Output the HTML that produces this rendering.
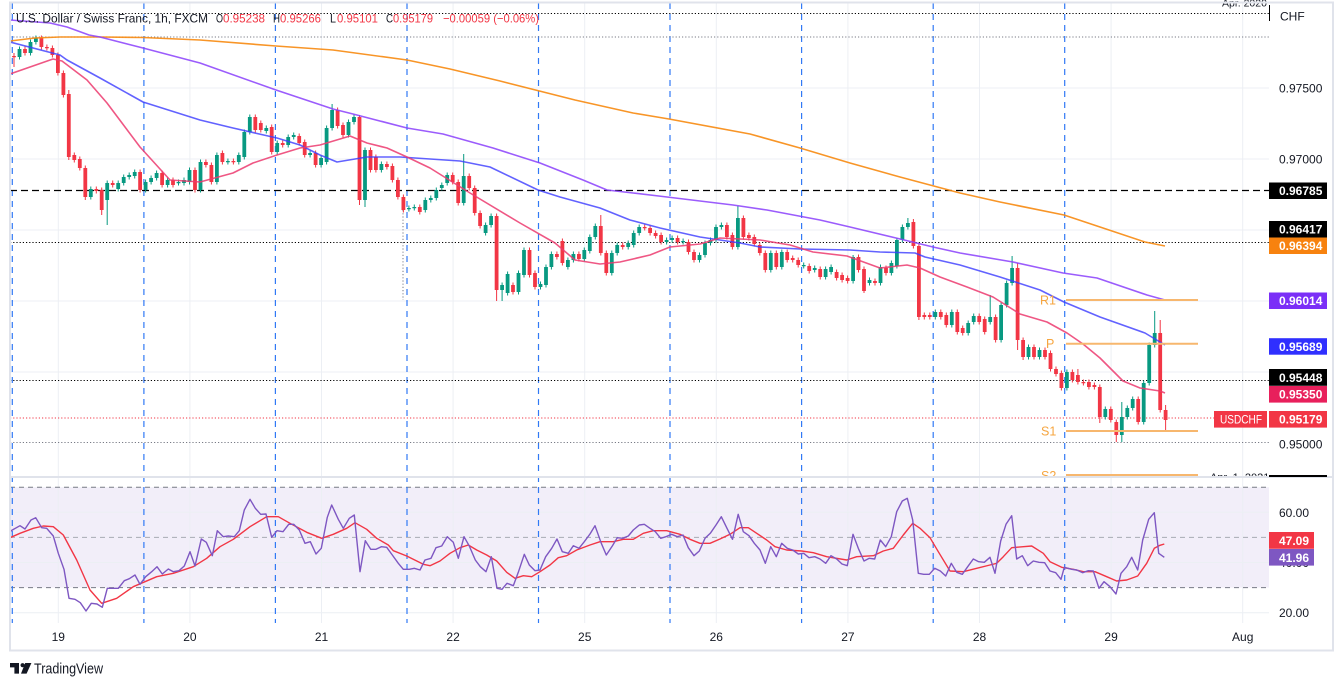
<!DOCTYPE html>
<html>
<head>
<meta charset="utf-8">
<style>
html,body{margin:0;padding:0;background:#fff;}
svg{display:block;}
text{font-family:"Liberation Sans",Arial,sans-serif;}
</style>
</head>
<body>
<svg width="1343" height="686" viewBox="0 0 1343 686" xmlns="http://www.w3.org/2000/svg">
<defs>
<clipPath id="cm"><rect x="10" y="3" width="1259" height="474"/></clipPath>
<clipPath id="cr"><rect x="10" y="477" width="1259" height="146"/></clipPath>
</defs>
<rect width="1343" height="686" fill="#fff"/>

<rect x="10" y="487.2" width="1259" height="100.4" fill="#f2eef9"/>

<g stroke="#eceff4" stroke-width="1">
<line x1="58.3" y1="3" x2="58.3" y2="623"/>
<line x1="189.9" y1="3" x2="189.9" y2="623"/>
<line x1="321.5" y1="3" x2="321.5" y2="623"/>
<line x1="453.1" y1="3" x2="453.1" y2="623"/>
<line x1="584.7" y1="3" x2="584.7" y2="623"/>
<line x1="716.3" y1="3" x2="716.3" y2="623"/>
<line x1="847.9" y1="3" x2="847.9" y2="623"/>
<line x1="979.5" y1="3" x2="979.5" y2="623"/>
<line x1="1111.1" y1="3" x2="1111.1" y2="623"/>
<line x1="1242.7" y1="3" x2="1242.7" y2="623"/>
</g>
<g stroke="#eceff4" stroke-width="1">
<line x1="10" y1="88" x2="1269" y2="88"/>
<line x1="10" y1="159" x2="1269" y2="159"/>
<line x1="10" y1="230" x2="1269" y2="230"/>
<line x1="10" y1="301" x2="1269" y2="301"/>
<line x1="10" y1="372" x2="1269" y2="372"/>
<line x1="10" y1="512.3" x2="1269" y2="512.3"/>
<line x1="10" y1="562.5" x2="1269" y2="562.5"/>
<line x1="10" y1="612.7" x2="1269" y2="612.7"/>
</g>
<line x1="10" y1="487.2" x2="1269" y2="487.2" stroke="#787b86" stroke-width="1" stroke-dasharray="5 4"/>
<line x1="10" y1="587.6" x2="1269" y2="587.6" stroke="#787b86" stroke-width="1" stroke-dasharray="5 4"/>
<line x1="10" y1="537.4" x2="1269" y2="537.4" stroke="#a8abb4" stroke-width="1" stroke-dasharray="5 4"/>

<g stroke="#3179f5" stroke-width="1.2" stroke-dasharray="6 5">
<line x1="12.3" y1="3" x2="12.3" y2="623"/>
<line x1="143.9" y1="3" x2="143.9" y2="623"/>
<line x1="275.4" y1="3" x2="275.4" y2="623"/>
<line x1="407" y1="3" x2="407" y2="623"/>
<line x1="538.5" y1="3" x2="538.5" y2="623"/>
<line x1="670" y1="3" x2="670" y2="623"/>
<line x1="801.6" y1="3" x2="801.6" y2="623"/>
<line x1="933.2" y1="3" x2="933.2" y2="623"/>
<line x1="1064.7" y1="3" x2="1064.7" y2="623"/>
</g>

<line x1="10" y1="13.5" x2="1269" y2="13.5" stroke="#000" stroke-width="1" stroke-dasharray="1.2 2"/>
<line x1="10" y1="37" x2="1269" y2="37" stroke="#787b86" stroke-width="1" stroke-dasharray="1.2 2"/>
<line x1="10" y1="190.5" x2="1269" y2="190.5" stroke="#000" stroke-width="1.2" stroke-dasharray="7 4"/>
<line x1="10" y1="242.5" x2="1269" y2="242.5" stroke="#000" stroke-width="1" stroke-dasharray="1.2 2"/>
<line x1="10" y1="380.5" x2="1269" y2="380.5" stroke="#000" stroke-width="1" stroke-dasharray="1.2 2"/>
<line x1="10" y1="418" x2="1214" y2="418" stroke="#f23645" stroke-width="1" stroke-dasharray="1.2 2"/>
<line x1="10" y1="442.5" x2="1269" y2="442.5" stroke="#787b86" stroke-width="1" stroke-dasharray="1.2 2"/>
<line x1="403" y1="210" x2="403" y2="300" stroke="#787b86" stroke-width="1" stroke-dasharray="1.2 2"/>

<!-- candles -->
<g clip-path="url(#cm)">
<path fill="none" stroke="#089981" stroke-width="1" d="M19.5 46.5V59.5M30.5 39.5V55.5M35.9 35.5V44.5M90.8 186.5V199.5M107.2 180.5V225M118.2 180.5V191.5M123.7 174.5V185.5M129.2 172.5V179.5M134.7 169.5V178.5M145.6 179.5V192.5M151.1 175.5V184.5M156.6 170.5V180.5M167.6 177.5V187.5M178.5 179.5V185.5M184 177.5V185.5M189.5 167.5V184.5M200.5 159.5V192.5M216.9 152.5V184.5M227.9 158.5V164.5M238.8 152.5V164.5M244.3 129.5V159.5M249.8 114.5V134.5M266.3 125.5V133.5M277.2 140.5V154.5M288.2 134.5V147.5M293.7 132.5V139.5M310.1 150.5V157.5M321.1 155.5V167.5M326.6 125.5V164.5M332.1 104V130.5M348.5 119.5V137.5M354 114.5V124.5M365 147.5V207M381.4 161.5V172.5M408.9 205.5V211.5M414.3 204.5V210.5M425.3 197.5V212.5M430.8 195.5V202.5M436.3 187.5V200.5M441.8 182.5V190.5M447.2 172.5V185.5M463.7 154V205.5M485.6 222.5V235.5M491.1 213.5V227.5M502.1 282.5V301M507.6 271.5V295.5M518.5 270.5V294.5M524 247.5V277.5M540.5 281.5V289.5M546 264.5V287.5M551.4 251.5V269.5M567.9 257.5V269.5M573.4 251.5V262.5M584.3 247.5V261.5M589.8 234.5V253.5M595.3 223.5V239.5M611.8 250.5V275.5M617.2 242.5V255.5M628.2 240.5V249.5M633.7 230.5V247.5M639.2 224.5V235.5M666.6 237.5V244.5M672.1 235.5V242.5M683.1 238.5V244.5M699.5 252.5V262.5M705 240.5V257.5M710.5 237.5V245.5M716 224.5V242.5M721.4 222.5V229.5M737.9 206V249.5M770.8 250.5V272.5M781.8 249.5V269.5M803.7 262.5V268.5M814.7 265.5V272.5M825.6 266.5V279.5M831.1 264.5V274.5M853.1 255V283.5M869.5 277.5V285.5M880.5 264.5V285.5M891.4 260.5V275.5M896.9 238V268.5M902.4 224.5V242.5M907.9 218V229.5M935.3 309.5V319.5M951.8 309.5V327.5M968.2 320.5V335.5M973.7 313.5V324.5M990.2 295V324.5M1001.1 302.5V342.5M1006.6 280.5V307.5M1012.1 256V285.5M1028.5 344.5V359.5M1039.5 347.5V359.5M1066.9 369.5V390.5M1105.3 406.5V419.5M1121.8 402V442M1127.3 405.5V419.5M1132.7 396.5V410.5M1143.7 380.5V424.5M1149.2 342.5V385.5M1154.7 311V347.5"/>
<path fill="#089981" d="M17.6 49h3.8v8h-3.8zM28.6 42h3.8v11h-3.8zM34 38h3.8v4h-3.8zM88.9 189h3.8v8h-3.8zM105.3 183h3.8v17h-3.8zM116.3 183h3.8v6h-3.8zM121.8 177h3.8v6h-3.8zM127.3 175h3.8v2h-3.8zM132.8 172h3.8v4h-3.8zM143.7 182h3.8v8h-3.8zM149.2 178h3.8v4h-3.8zM154.7 173h3.8v5h-3.8zM165.7 180h3.8v5h-3.8zM176.6 182h3.8v1.2h-3.8zM182.1 180h3.8v3h-3.8zM187.6 170h3.8v12h-3.8zM198.6 162h3.8v28h-3.8zM215 155h3.8v27h-3.8zM226 161h3.8v1.2h-3.8zM236.9 155h3.8v7h-3.8zM242.4 132h3.8v25h-3.8zM247.9 117h3.8v15h-3.8zM264.4 128h3.8v3h-3.8zM275.3 143h3.8v9h-3.8zM286.3 137h3.8v8h-3.8zM291.8 135h3.8v2h-3.8zM308.2 153h3.8v2h-3.8zM319.2 158h3.8v7h-3.8zM324.7 128h3.8v34h-3.8zM330.2 110h3.8v18h-3.8zM346.6 122h3.8v13h-3.8zM352.1 117h3.8v5h-3.8zM363.1 150h3.8v50h-3.8zM379.5 164h3.8v6h-3.8zM407 208h3.8v1.2h-3.8zM412.4 207h3.8v1.2h-3.8zM423.4 200h3.8v10h-3.8zM428.9 198h3.8v2h-3.8zM434.4 190h3.8v8h-3.8zM439.9 185h3.8v3h-3.8zM445.3 175h3.8v8h-3.8zM461.8 176h3.8v27h-3.8zM483.7 225h3.8v8h-3.8zM489.2 216h3.8v9h-3.8zM500.2 285h3.8v5h-3.8zM505.7 274h3.8v19h-3.8zM516.6 273h3.8v19h-3.8zM522.1 250h3.8v25h-3.8zM538.6 284h3.8v3h-3.8zM544.1 267h3.8v18h-3.8zM549.5 254h3.8v13h-3.8zM566 260h3.8v7h-3.8zM571.5 254h3.8v6h-3.8zM582.4 250h3.8v9h-3.8zM587.9 237h3.8v14h-3.8zM593.4 226h3.8v11h-3.8zM609.9 253h3.8v20h-3.8zM615.3 245h3.8v8h-3.8zM626.3 243h3.8v4h-3.8zM631.8 233h3.8v12h-3.8zM637.3 227h3.8v6h-3.8zM664.7 240h3.8v2h-3.8zM670.2 238h3.8v2h-3.8zM681.2 241h3.8v1.2h-3.8zM697.6 255h3.8v5h-3.8zM703.1 243h3.8v12h-3.8zM708.6 240h3.8v3h-3.8zM714.1 227h3.8v13h-3.8zM719.5 225h3.8v2h-3.8zM736 218h3.8v29h-3.8zM768.9 253h3.8v17h-3.8zM779.9 252h3.8v15h-3.8zM801.8 265h3.8v1.2h-3.8zM812.8 268h3.8v2h-3.8zM823.7 269h3.8v8h-3.8zM829.2 267h3.8v5h-3.8zM851.2 257h3.8v24h-3.8zM867.6 280h3.8v3h-3.8zM878.6 267h3.8v16h-3.8zM889.5 263h3.8v10h-3.8zM895 240h3.8v26h-3.8zM900.5 227h3.8v13h-3.8zM906 223h3.8v4h-3.8zM933.4 312h3.8v5h-3.8zM949.9 312h3.8v13h-3.8zM966.3 323h3.8v10h-3.8zM971.8 316h3.8v6h-3.8zM988.3 317h3.8v5h-3.8zM999.2 305h3.8v35h-3.8zM1004.7 283h3.8v22h-3.8zM1010.2 268h3.8v15h-3.8zM1026.6 347h3.8v10h-3.8zM1037.6 350h3.8v7h-3.8zM1065 372h3.8v16h-3.8zM1103.4 409h3.8v8h-3.8zM1119.9 417h3.8v18h-3.8zM1125.4 408h3.8v9h-3.8zM1130.8 399h3.8v9h-3.8zM1141.8 383h3.8v39h-3.8zM1147.3 345h3.8v38h-3.8zM1152.8 333h3.8v12h-3.8z"/>
<path fill="none" stroke="#f23645" stroke-width="1" d="M14 53V67M25 46.5V55.5M41.4 35.5V49.5M46.9 44.5V50.5M52.4 45.5V57.5M57.9 52.5V75.5M63.4 70.5V97.5M68.8 90V160M74.3 152.5V162.5M79.8 156.5V170.5M85.3 165.5V200M96.3 186.5V193.5M101.7 187.5V215M112.7 180.5V187.5M140.1 169.5V192.5M162.1 170.5V187.5M173 177.5V187.5M195 167.5V192.5M205.9 159.5V167.5M211.4 162.5V184.5M222.4 150.5V164.5M233.4 158.5V164.5M255.3 114.5V132.5M260.8 120.5V132.5M271.7 124.5V154.5M282.7 140.5V147.5M299.2 133.5V145.5M304.7 139.5V157.5M315.6 150.5V167.5M337.6 107.5V128.5M343 122.5V137.5M359.5 115V205M370.5 147.5V172.5M375.9 154.5V172.5M386.9 161.5V169.5M392.4 163.5V182.5M397.9 177.5V199.5M403.4 194.5V212.5M419.8 204.5V214.5M452.7 172.5V184.5M458.2 179.5V205.5M469.2 173.5V190.5M474.7 185.5V215.5M480.1 210.5V228.5M496.6 213.5V301M513 282.5V294.5M529.5 247.5V277.5M535 270.5V289.5M556.9 251.5V259.5M562.4 238.5V265.5M578.9 251.5V261.5M600.8 215V255.5M606.3 250.5V275.5M622.7 242.5V249.5M644.7 224.5V230.5M650.1 225.5V235.5M655.6 230.5V238.5M661.1 232.5V244.5M677.6 235.5V244.5M688.5 239.5V254.5M694 249.5V262.5M726.9 222.5V239.5M732.4 232.5V249.5M743.4 215.5V239.5M748.9 232.5V240.5M754.3 234.5V246.5M759.8 242.5V255.5M765.3 250.5V272.5M776.3 250.5V269.5M787.2 249.5V262.5M792.7 255.5V262.5M798.2 257.5V267.5M809.2 263.5V273.5M820.2 266.5V279.5M836.6 269.5V280.5M842.1 272.5V282.5M847.6 275.5V283.5M858.5 254.5V272.5M864 266.5V293M875 278.5V285.5M886 265.5V275.5M913.4 219V248.5M918.9 243.5V320M924.3 312.5V319.5M929.8 312.5V319.5M940.8 309.5V319.5M946.3 312.5V327.5M957.3 309.5V334.5M962.7 325.5V335.5M979.2 313.5V324.5M984.7 316.5V334.5M995.6 314.5V342.5M1017.6 263V350M1023.1 337.5V360M1034 344.5V359.5M1045 347.5V359.5M1050.5 350.5V371.5M1056 366.5V376.5M1061.4 370.5V390.5M1072.4 369.5V382.5M1077.9 369V384.5M1083.4 379.5V385.5M1088.9 379.5V389.5M1094.4 382.5V389.5M1099.8 384.5V423M1110.8 406.5V422.5M1116.3 419.5V442M1138.2 396.5V424.5M1160.2 320V412.5M1165.6 405V430"/>
<path fill="#f23645" d="M12.1 56h3.8v1.2h-3.8zM23.1 49h3.8v4h-3.8zM39.5 38h3.8v9h-3.8zM45 47h3.8v1.2h-3.8zM50.5 48h3.8v7h-3.8zM56 55h3.8v18h-3.8zM61.5 73h3.8v22h-3.8zM66.9 94h3.8v63h-3.8zM72.4 155h3.8v5h-3.8zM77.9 159h3.8v9h-3.8zM83.4 168h3.8v29h-3.8zM94.4 189h3.8v2h-3.8zM99.8 190h3.8v20h-3.8zM110.8 183h3.8v2h-3.8zM138.2 172h3.8v18h-3.8zM160.2 173h3.8v12h-3.8zM171.1 180h3.8v5h-3.8zM193.1 170h3.8v20h-3.8zM204 162h3.8v3h-3.8zM209.5 165h3.8v17h-3.8zM220.5 153h3.8v9h-3.8zM231.5 161h3.8v1.2h-3.8zM253.4 117h3.8v13h-3.8zM258.9 123h3.8v7h-3.8zM269.8 127h3.8v25h-3.8zM280.8 143h3.8v2h-3.8zM297.3 136h3.8v7h-3.8zM302.8 142h3.8v13h-3.8zM313.7 153h3.8v12h-3.8zM335.7 110h3.8v16h-3.8zM341.1 125h3.8v10h-3.8zM357.6 117h3.8v83h-3.8zM368.6 150h3.8v20h-3.8zM374 157h3.8v13h-3.8zM385 164h3.8v3h-3.8zM390.5 166h3.8v14h-3.8zM396 180h3.8v17h-3.8zM401.5 197h3.8v13h-3.8zM417.9 207h3.8v5h-3.8zM450.8 175h3.8v7h-3.8zM456.3 182h3.8v21h-3.8zM467.3 176h3.8v12h-3.8zM472.8 188h3.8v25h-3.8zM478.2 213h3.8v13h-3.8zM494.7 216h3.8v74h-3.8zM511.1 285h3.8v7h-3.8zM527.6 250h3.8v25h-3.8zM533.1 273h3.8v14h-3.8zM555 254h3.8v3h-3.8zM560.5 241h3.8v22h-3.8zM577 254h3.8v5h-3.8zM598.9 226h3.8v27h-3.8zM604.4 253h3.8v20h-3.8zM620.8 245h3.8v2h-3.8zM642.8 227h3.8v1.2h-3.8zM648.2 228h3.8v5h-3.8zM653.7 233h3.8v3h-3.8zM659.2 235h3.8v7h-3.8zM675.7 238h3.8v4h-3.8zM686.6 242h3.8v10h-3.8zM692.1 252h3.8v8h-3.8zM725 225h3.8v12h-3.8zM730.5 235h3.8v12h-3.8zM741.5 218h3.8v19h-3.8zM747 235h3.8v3h-3.8zM752.4 237h3.8v7h-3.8zM757.9 245h3.8v8h-3.8zM763.4 253h3.8v17h-3.8zM774.4 253h3.8v14h-3.8zM785.3 252h3.8v8h-3.8zM790.8 258h3.8v2h-3.8zM796.3 260h3.8v5h-3.8zM807.3 266h3.8v5h-3.8zM818.3 269h3.8v8h-3.8zM834.7 272h3.8v6h-3.8zM840.2 275h3.8v5h-3.8zM845.7 278h3.8v3h-3.8zM856.6 257h3.8v13h-3.8zM862.1 269h3.8v22h-3.8zM873.1 281h3.8v2h-3.8zM884.1 268h3.8v5h-3.8zM911.5 222h3.8v24h-3.8zM917 246h3.8v71h-3.8zM922.4 315h3.8v2h-3.8zM927.9 315h3.8v2h-3.8zM938.9 312h3.8v5h-3.8zM944.4 315h3.8v10h-3.8zM955.4 312h3.8v20h-3.8zM960.8 328h3.8v5h-3.8zM977.3 316h3.8v6h-3.8zM982.8 319h3.8v13h-3.8zM993.7 317h3.8v23h-3.8zM1015.7 268h3.8v72h-3.8zM1021.2 340h3.8v17h-3.8zM1032.1 347h3.8v10h-3.8zM1043.1 350h3.8v7h-3.8zM1048.6 353h3.8v16h-3.8zM1054.1 369h3.8v5h-3.8zM1059.5 373h3.8v15h-3.8zM1070.5 372h3.8v8h-3.8zM1076 375h3.8v7h-3.8zM1081.5 382h3.8v1.2h-3.8zM1087 382h3.8v5h-3.8zM1092.5 385h3.8v2h-3.8zM1097.9 387h3.8v30h-3.8zM1108.9 409h3.8v11h-3.8zM1114.4 422h3.8v13h-3.8zM1136.3 399h3.8v23h-3.8zM1158.3 333h3.8v77h-3.8zM1163.7 410h3.8v10h-3.8z"/>
</g>

<!-- moving averages -->
<g clip-path="url(#cm)" fill="none" stroke-width="1.6" stroke-linejoin="round">
<polyline stroke="#f7890f" stroke-opacity="0.9" points="10,41 35,38 60,37 100,37 143,37.5 200,40 276,46 333,50 407,60 450,69 500,81 575,100 633,113 669,119 750,134 800,148 850,163 900,177 960,193 1000,202 1064,215 1100,227 1145,242 1165,246"/>
<polyline stroke="#8a3ffc" stroke-opacity="0.85" points="10,20 50,23 67,27 89,35 100,37 143,48 200,63 276,90 333,109 353,114 407,128 443,134 493,148 540,163 583,180 607,190 633,193 667,197 733,205 767,210 820,220 850,227 896,238 933,247 960,253 1013,262 1063,273 1097,278 1147,295 1165,300"/>
<polyline stroke="#3b3bff" stroke-opacity="0.8" points="10,42 60,55 67,60 100,78 143,102 200,120 233,128 277,138 300,145 320,155 337,162 367,157 400,157 460,161 490,167 538,190 560,197 600,208 630,220 660,228 700,237 740,243 760,247 800,249 850,250 880,252 915,253 925,257 960,265 1000,277 1040,290 1064,302 1100,317 1145,333 1165,345"/>
<polyline stroke="#ec3a6e" stroke-opacity="0.85" points="10,74 53,59 62,61 87,80 107,103 140,147 170,180 200,182 233,173 253,163 277,155 300,148 320,145 350,136 367,143 387,148 407,157 430,168 470,193 520,223 555,243 575,260 600,264 620,262 650,255 670,247 700,244 720,238 760,240 790,245 813,252 847,256 880,268 907,265 920,268 940,277 967,287 993,297 1020,314 1047,322 1067,333 1083,344 1100,358 1123,381 1140,388 1160,391 1165,393"/>
</g>

<g clip-path="url(#cm)">
<g stroke="#f7b76e" stroke-width="2">
<line x1="1066" y1="300" x2="1198" y2="300"/>
<line x1="1066" y1="343.7" x2="1198" y2="343.7"/>
<line x1="1066" y1="431" x2="1198" y2="431"/>
<line x1="1066" y1="475" x2="1198" y2="475"/>
</g>
<g fill="#f6a53f" font-size="12.5">
<text x="1040" y="304.5">R1</text>
<text x="1046" y="348">P</text>
<text x="1041" y="435.5">S1</text>
<text x="1041" y="480">S2</text>
</g>
<text x="1210" y="481" font-size="11" fill="#131722">Apr. 1, 2021</text>
</g>

<g clip-path="url(#cr)" fill="none" stroke-width="1.4" stroke-linejoin="round">
<polyline stroke="#f23645" points="10,537.7 20,533.3 33.3,528.3 43.3,526 53.3,526.7 63.3,535 76.7,560 90,590 101.7,603.3 116.7,598.3 133.3,586.7 156.7,576.7 173.3,573.3 193.3,566.7 206.7,558.3 220,546.7 233.3,539.3 250,526.7 266.7,516.7 278.3,516.7 290,523.3 306.7,532.3 321.7,538.3 333.3,534.3 346.7,528.3 355,522.7 366.7,529.3 376.7,538.3 388.3,545 393.3,550.7 406.7,556 423.3,564.3 430,565.7 440,561 450,553.3 460,547.7 468.3,545 476.7,550 486.7,555 496.7,561 506.7,572.3 515,578.3 523.3,575.7 531.7,576.7 540,571.7 550,565 558.3,557.7 566.7,555.7 576.7,550 590,545 600,541.7 613.3,541.7 623.3,539.3 633.3,539.3 643.3,533.3 653.3,530.7 666.7,530.7 680,534.3 690,539.3 700,543.3 710,543.3 720,539 730,534.3 740,527.7 748.3,527.7 756.7,533.3 766.7,540 775,546.7 786.7,550 801.7,551 813.3,552.7 826.7,556.7 846.7,560 856.7,556.7 873.3,555.7 883.3,551 893.3,548.3 903.3,535 912.7,523.3 920,528.3 930,537.7 938.3,551.7 950,571 963.3,571.7 976.7,568.3 990,565 996.7,563.3 1003.3,556.7 1011.7,547.7 1023.3,546.7 1031.7,546 1043.3,553.3 1050,561.7 1061.7,567.3 1073.3,569.3 1083.3,571.7 1095,571.7 1106.7,576.7 1116.7,581 1126.7,580 1137.7,576 1146.7,563.3 1154.3,548.3 1160,545.3 1164.3,544"/>
<polyline stroke="#7e57c2" points="10,531.7 12.3,530 20,525.7 25,529 31,520 35.7,517.7 41.7,527.7 46.7,528.3 53.3,536 58.3,553.3 64,569.3 69,598.3 75,599.3 80.3,602.7 86,611 91.3,603.3 97,604 102.3,607.3 107.3,588.3 113.3,588.3 118.3,588.3 124.3,580.7 129.3,578.7 135,575 140,584.3 145.7,576.7 151.7,571.7 157,566.7 162.3,574 168.3,569 173.3,571.7 179,570.7 184.3,566 190,551.7 195,566 201.3,539 206.3,542.3 212.3,555.7 217.3,530.7 223.3,536.7 228.3,536 234.3,536.7 239.3,530.7 244.3,510 250,499.3 255.3,508.3 260.7,514.3 266,514 271.7,537.3 277,530.7 283,531.7 288.7,524.3 293.7,524.3 299.3,530 305,543.3 310.3,541.7 316,554 321.3,548.3 327.3,517.3 331.7,505 338.3,519.3 343.3,528.3 349.3,518.3 354.3,515 360,571.7 365.3,540.7 370.7,549.3 376,549.3 381.3,546.7 386.7,547.3 392.3,555 398.3,563.3 403.3,569.3 409.3,569.3 414.3,568.3 420,570 425,560 431,558.3 436,547.7 441.7,546 447.3,536.7 453.3,542.3 458.3,558.3 464,536.7 469.3,546 475.3,560 480.3,566.7 486,571.7 491.3,556.7 497,588.3 502,589.3 507,583.3 513.3,585.7 518.3,572.3 524.3,554.3 529.3,565 535,570.7 540,570 545.7,556.7 551.7,548.3 557,539 562.3,551.7 568.3,553.3 573.3,545.7 579,548.3 584.3,541.7 590,534 595,525.7 601.3,543.3 606.3,555 612.3,546 617.3,537.7 622.7,538.3 628.3,536 633.3,530 639.3,525 644.3,524.3 650,528.3 655.3,531.7 660.7,538.3 666,536.7 671.7,534.3 677.3,536.7 683,535 688.3,547.7 694,555.7 699.3,551 705,538.3 710.3,533.3 716,525 721.3,516.7 727,528.3 732.5,539.3 738.2,514.3 743.3,531.7 749,535.7 754.3,543.3 760,550 765.3,563.3 770.7,546.7 776.3,556.7 781.7,543.3 787.3,548.3 792.7,550 798.3,554 803.7,553.3 809,557.7 814.7,556.7 820,559 825.7,563.3 831,555.7 836.7,559 842,564 847.3,565.7 853,534.3 858.3,548.3 864,561 869.3,558.3 874.7,559 880.3,540 885.7,546.7 891.3,536.7 896.7,511.7 902.3,501 907.3,498.3 912.7,520 918.3,573.3 923.7,574.3 929.3,574.3 934.7,568.3 940.3,571 945.7,576 951.3,563.3 956.7,572.3 962.3,574.3 967.7,566.7 973.3,559 978.7,561.7 984.3,562.3 990,557.3 995,573.3 1000.7,541 1006,524.3 1011.7,515.7 1016.7,559 1022.3,555.7 1027.7,565.7 1033.3,561 1039,562.3 1044.7,562.7 1050,571 1055.7,572.7 1061,579.3 1064.3,567.3 1071.7,569.3 1076.7,570 1082.7,572.7 1088.3,570.7 1093.3,571 1099,588.3 1104,581.7 1110,586.7 1116,594 1121,573.3 1126.7,566.7 1131.7,557.3 1137.7,570 1142.7,540 1148.7,519.3 1154.3,512.7 1158.7,553.3 1164.3,557.3"/>
</g>

<line x1="10" y1="477" x2="1333" y2="477" stroke="#e0e3eb" stroke-width="2"/>

<g font-size="12">
<text x="16" y="22.5" fill="#131722" textLength="192" lengthAdjust="spacingAndGlyphs">U.S. Dollar / Swiss Franc, 1h, FXCM</text>
<text x="216" y="22.5" fill="#131722" textLength="7" lengthAdjust="spacingAndGlyphs">O</text>
<text x="223" y="22.5" fill="#f23645" textLength="42" lengthAdjust="spacingAndGlyphs">0.95238</text>
<text x="273" y="22.5" fill="#131722" textLength="7" lengthAdjust="spacingAndGlyphs">H</text>
<text x="280" y="22.5" fill="#f23645" textLength="41" lengthAdjust="spacingAndGlyphs">0.95266</text>
<text x="330" y="22.5" fill="#131722" textLength="6" lengthAdjust="spacingAndGlyphs">L</text>
<text x="337" y="22.5" fill="#f23645" textLength="41" lengthAdjust="spacingAndGlyphs">0.95101</text>
<text x="386" y="22.5" fill="#131722" textLength="7" lengthAdjust="spacingAndGlyphs">C</text>
<text x="393" y="22.5" fill="#f23645" textLength="40" lengthAdjust="spacingAndGlyphs">0.95179</text>
<text x="443" y="22.5" fill="#f23645" textLength="96" lengthAdjust="spacingAndGlyphs">−0.00059 (−0.06%)</text>
</g>

<text x="1222" y="6.5" font-size="10.5" fill="#131722">Apr. 2020</text>
<line x1="1269.5" y1="5" x2="1269.5" y2="21" stroke="#000" stroke-width="1"/>
<g font-size="12" fill="#131722">
<text x="1280" y="20.5">CHF</text>
<text x="1279" y="92.5">0.97500</text>
<text x="1279" y="163.5">0.97000</text>
<text x="1279" y="448.5">0.95000</text>
<text x="1279" y="516.8">60.00</text>
<text x="1279" y="567">40.00</text>
<text x="1279" y="617.2">20.00</text>
</g>
<rect x="1269" y="475" width="58" height="2" fill="#000"/>
<g font-size="12" font-weight="bold" fill="#fff">
<rect x="1269" y="182.5" width="58" height="16.5" fill="#000"/>
<text x="1279" y="195.2">0.96785</text>
<rect x="1269" y="221" width="58" height="16.5" fill="#000"/>
<text x="1279" y="233.7">0.96417</text>
<rect x="1269" y="237.5" width="58" height="16.5" fill="#f7820f"/>
<text x="1279" y="250.2">0.96394</text>
<rect x="1269" y="292.5" width="58" height="16.5" fill="#7b2ff7"/>
<text x="1279" y="305.2">0.96014</text>
<rect x="1269" y="338.2" width="58" height="16.5" fill="#2f2fff"/>
<text x="1279" y="350.9">0.95689</text>
<rect x="1269" y="369" width="58" height="16.8" fill="#000"/>
<text x="1279" y="381.8">0.95448</text>
<rect x="1269" y="386" width="58" height="16.6" fill="#e8205c"/>
<text x="1279" y="398.7">0.95350</text>
<rect x="1269" y="411" width="58" height="16.6" fill="#f23645"/>
<text x="1279" y="423.7">0.95179</text>
<rect x="1214" y="411" width="53" height="16.6" fill="#f23645"/>
<text x="1220" y="423.7" font-weight="normal" textLength="42" lengthAdjust="spacingAndGlyphs">USDCHF</text>
<rect x="1269" y="532" width="45" height="16.8" fill="#f23645"/>
<text x="1279" y="544.9">47.09</text>
<rect x="1269" y="549" width="45" height="16.6" fill="#7e57c2"/>
<text x="1279" y="561.8">41.96</text>
</g>

<g font-size="12" fill="#131722" text-anchor="middle">
<text x="58.3" y="641">19</text>
<text x="189.9" y="641">20</text>
<text x="321.5" y="641">21</text>
<text x="453.1" y="641">22</text>
<text x="584.7" y="641">25</text>
<text x="716.3" y="641">26</text>
<text x="847.9" y="641">27</text>
<text x="979.5" y="641">28</text>
<text x="1111.1" y="641">29</text>
<text x="1242.7" y="641">Aug</text>
</g>

<rect x="10" y="2.5" width="1323" height="648" fill="none" stroke="#e0e3eb" stroke-width="2"/>

<path d="M10 663h9v10.6h-4.6v-6.2h-4.4z" fill="#131722"/>
<circle cx="22.6" cy="665.2" r="2.1" fill="#131722"/>
<path d="M25.2 663h6.2l-4.8 10.6h-5.6z" fill="#131722"/>
<text x="34" y="673.5" font-size="15" fill="#131722" textLength="69" lengthAdjust="spacingAndGlyphs">TradingView</text>
</svg>
</body>
</html>
